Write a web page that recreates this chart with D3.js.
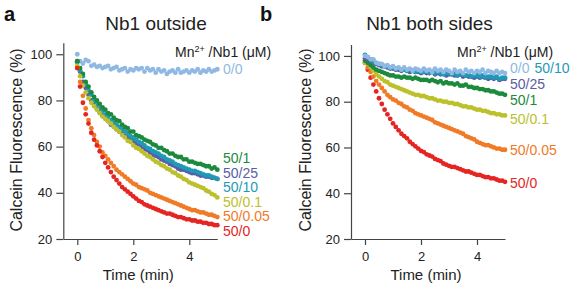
<!DOCTYPE html>
<html>
<head>
<meta charset="utf-8">
<script src="https://cdn.jsdelivr.net/npm/d3@7"></script>
<style>
    body { margin: 0; background: #fff; }
    svg text { font-family: "Liberation Sans", Arial, Helvetica, sans-serif; }
</style>
</head>
<body>
<div id="chart"></div>
<script>
// Time points (min), shared by every series
var times = [0, 0.1, 0.2, 0.3, 0.4, 0.5, 0.6, 0.7, 0.8, 0.9, 1.0,
    1.1, 1.2, 1.3, 1.4, 1.5, 1.6, 1.7, 1.8, 1.9, 2.0,
    2.1, 2.2, 2.3, 2.4, 2.5, 2.6, 2.7, 2.8, 2.9, 3.0,
    3.1, 3.2, 3.3, 3.4, 3.5, 3.6, 3.7, 3.8, 3.9, 4.0,
    4.1, 4.2, 4.3, 4.4, 4.5, 4.6, 4.7, 4.8, 4.9, 5.0];

var xTicks = [0, 2, 4];
var yTicks = [20, 40, 60, 80, 100];

// Series names (Mn2+/Nb1 in uM)
var labels = ["0/0", "50/1", "50/25", "50/10", "50/0.1", "50/0.05", "50/0"];

// Panel a: Nb1 outside, calcein fluorescence (%)
var out_0_0 = [100, 97, 96, 97.5, 97, 95, 95.5, 94.5, 95, 94, 94.5,
    95, 93.5, 94, 94.5, 93, 93.5, 94, 92.5, 93.5, 93,
    94, 93.5, 94, 92.5, 94, 93, 93.5, 92, 93.5, 92.5,
    93, 91.5, 92.5, 93, 92, 93.5, 92, 92.5, 93, 92,
    93, 92.5, 93.5, 92, 93, 92.5, 93.5, 92.5, 93, 93.5];
var out_50_1 = [97, 94, 91.5, 88, 86, 83.5, 81.5, 80, 78.5, 77, 76,
    74.5, 74, 72.5, 71.5, 71, 69.5, 68.5, 68, 66.5, 66.5,
    65, 64.5, 64, 63, 62.5, 62, 61, 60.5, 59.5, 59.5,
    58.5, 58, 57, 57, 56, 55.5, 55.5, 54.5, 54.5, 53.5,
    53.5, 53, 52.5, 52.5, 52, 51.5, 51.5, 50.5, 51, 50];
var out_50_25 = [97, 92.5, 88, 85.5, 82.5, 80, 78.5, 76.5, 75, 73.5, 72.5,
    71, 69.5, 69, 67.5, 66.5, 66, 64.5, 64, 63, 62.5,
    61.5, 61, 60, 59, 58.5, 57.5, 56.5, 56, 55.5, 54.5,
    54, 53.5, 52.5, 52, 51.5, 50.5, 50, 50, 49.5, 49,
    48.5, 48.5, 48, 47.5, 47.5, 47, 47, 46.5, 46.5, 46];
var out_50_10 = [96.5, 93, 90.5, 87, 84.5, 82.5, 80, 78.5, 76.5, 75.5, 74,
    73, 71.5, 70.5, 69.5, 68.5, 67.5, 66.5, 66, 64.5, 64,
    63, 62, 61.5, 60.5, 59.5, 59, 58, 57.5, 57, 56,
    55.5, 54.5, 54, 53.5, 52.5, 52, 51.5, 51, 50.5, 50,
    49.5, 49.5, 49, 48.5, 48, 47.5, 47.5, 47, 46.5, 46];
var out_50_01 = [95, 90.5, 86.5, 83.5, 81, 79, 77.5, 76, 74.5, 73, 72,
    71, 70, 68.5, 67.5, 66.5, 65, 64, 62.5, 62, 60.5,
    59.5, 59, 58, 57, 56, 55.5, 54.5, 53.5, 53, 52,
    51.5, 50.5, 50, 49, 48.5, 47.5, 47, 46, 45.5, 44.5,
    44, 43.5, 43, 42.5, 42, 41, 40.5, 39.5, 39, 38];
var out_50_005 = [94, 88, 82, 76.5, 71.5, 68, 65, 62, 60, 57.5, 56,
    54.5, 53, 51.5, 50, 49, 48, 47, 46, 45, 44,
    43.5, 42.5, 42, 41.5, 41, 40, 39.5, 39, 38.5, 38,
    37.5, 37, 36.5, 36, 35.5, 35, 34.5, 34, 33.5, 33,
    32.5, 32.5, 32, 31.5, 31.5, 31, 30.5, 30.5, 30, 29.5];
var out_50_0 = [94, 86, 79, 74, 70, 66, 63, 60.5, 58, 55.5, 53,
    51, 49, 47, 45.5, 44, 42.5, 41.5, 40.5, 39.5, 38.5,
    37.5, 36.5, 36, 35, 34.5, 34, 33.5, 33, 32.5, 32,
    31.5, 31, 31, 30.5, 30, 29.5, 29.5, 29, 28.5, 28.5,
    28, 28, 27.5, 27.5, 27, 27, 26.5, 26.5, 26, 26];

// Panel b: Nb1 both sides
var both_0_0 = [100, 99.5, 98.5, 98.5, 97, 96.5, 96.5, 95.5, 96, 95, 95.5,
    94.5, 95, 94, 95, 94, 94.5, 93.5, 94.5, 94, 93.5,
    94.5, 93.5, 94, 93, 94.5, 93.5, 94, 93, 94, 93.5,
    92.5, 94, 93, 93.5, 92.5, 94, 93, 93.5, 92.5, 93.5,
    93, 94, 92.5, 93.5, 93, 92.5, 93.5, 92.5, 93, 92.5];
var both_50_1 = [98, 97, 96, 95, 94, 93.5, 93, 92.5, 92, 91.5, 91.5,
    91, 91, 90.5, 91, 90.5, 90.5, 90, 90.5, 90, 89.5,
    89.5, 89.5, 89, 89.5, 89, 88.5, 89, 88, 88.5, 88,
    88, 87.5, 88, 87, 87, 87.5, 86.5, 86.5, 86, 86,
    85.5, 85.5, 85, 85, 84.5, 84.5, 84, 83.5, 83.5, 83];
var both_50_25 = [99, 98.5, 98, 97, 96.5, 96, 95.5, 95.5, 95, 94.5, 94.5,
    94, 94, 93.5, 94, 93.5, 93, 93.5, 93, 93, 92.5,
    93, 92.5, 92.5, 93, 92, 92.5, 92, 92.5, 91.5, 92,
    92, 91.5, 91.5, 92, 91, 91.5, 91, 91, 90.5, 91,
    90.5, 91, 90.5, 90, 90.5, 90, 90.5, 89.5, 90, 90];
var both_50_10 = [100.5, 99.5, 98.5, 97.5, 97, 96.5, 96, 95.5, 95.5, 95, 95,
    94.5, 94.5, 94, 94, 93.5, 94, 93.5, 93, 93.5, 93,
    93, 93.5, 92.5, 93, 92.5, 93, 92.5, 92, 92.5, 92.5,
    92, 92.5, 91.5, 92, 92, 91.5, 92, 91, 91.5, 91.5,
    91, 91.5, 90.5, 91, 91, 90.5, 91, 90, 90.5, 90.5];
var both_50_01 = [97, 96.5, 95, 93.5, 92, 91, 90, 89, 88.5, 87.5, 87,
    86.5, 86, 85.5, 85, 84.5, 84, 83.5, 83, 83, 82.5,
    82.5, 82, 81.5, 81.5, 81, 80.5, 80.5, 80, 80, 79.5,
    79.5, 79, 79, 78.5, 78, 78, 77.5, 77.5, 77, 76.5,
    76.5, 76, 76, 75.5, 75, 75, 74.5, 74.5, 74, 74];
var both_50_005 = [97, 95, 93, 91, 89, 87.5, 86, 84.5, 83, 82, 81,
    80.5, 79.5, 79, 78, 77.5, 76.5, 76, 75, 74.5, 74,
    73.5, 73, 72.5, 72, 71, 70.5, 70, 69.5, 69, 68.5,
    68, 67.5, 67, 66.5, 66, 65, 64.5, 64, 63.5, 62.5,
    62, 61.5, 61, 61, 60.5, 60, 59.5, 59.5, 59, 59];
var both_50_0 = [97, 94, 90.5, 87.5, 84.5, 81.5, 79, 76.5, 74.5, 72.5, 70.5,
    69, 67.5, 66, 65, 64, 62.5, 61.5, 60.5, 59.5, 58.5,
    58, 57, 56.5, 56, 55, 54.5, 54, 53, 52.5, 52,
    51.5, 51.5, 51, 50.5, 50, 49.5, 49.5, 49, 48.5, 48,
    48, 47.5, 47, 47, 46.5, 46.5, 46, 45.5, 45.5, 45];

// Colours per series
var colors = {
    "0/0": "#8fb9e3",
    "50/1": "#1c8a3c",
    "50/25": "#5a5ca8",
    "50/10": "#1e9ab6",
    "50/0.1": "#bcc12b",
    "50/0.05": "#f07a26",
    "50/0": "#e42522"
};

var w = 576;
var h = 288;

var svg = d3.select("#chart")
    .append("svg")
    .attr("width", w)
    .attr("height", h);

// Panel setup (draw order bottom to top, label positions)
var panels = [
    {
        letter: "a", letterX: 4, title: "Nb1 outside", titleX: 156,
        left: 63.3, top: 42.7, yLabelX: 22, headerX: 175,
        series: [
            { name: "0/0", values: out_0_0, lx: 223, ly: 74 },
            { name: "50/25", values: out_50_25, lx: 223, ly: 177.5 },
            { name: "50/10", values: out_50_10, lx: 223, ly: 192 },
            { name: "50/1", values: out_50_1, lx: 223, ly: 162.5 },
            { name: "50/0.1", values: out_50_01, lx: 223, ly: 206.5 },
            { name: "50/0.05", values: out_50_005, lx: 223, ly: 221 },
            { name: "50/0", values: out_50_0, lx: 223, ly: 236 }
        ]
    },
    {
        letter: "b", letterX: 260, title: "Nb1 both sides", titleX: 429.5,
        left: 351, top: 44.5, yLabelX: 311, headerX: 457,
        series: [
            { name: "50/0", values: both_50_0, lx: 510, ly: 187.5 },
            { name: "50/0.05", values: both_50_005, lx: 510, ly: 155 },
            { name: "50/0.1", values: both_50_01, lx: 510, ly: 124 },
            { name: "50/1", values: both_50_1, lx: 510, ly: 105 },
            { name: "50/25", values: both_50_25, lx: 510, ly: 89 },
            { name: "50/10", values: both_50_10, lx: 534.5, ly: 73 },
            { name: "0/0", values: both_0_0, lx: 510, ly: 73 }
        ]
    }
];

panels.forEach(drawPanel);

function drawPanel(p) {
    var bottom = 239;

    var xScale = d3.scaleLinear().domain([-0.5, 5]).range([p.left, p.left + 154]);
    var yScale = d3.scaleLinear().domain([20, 105]).range([bottom, p.top]);

    // Panel letter and title
    svg.append("text")
        .attr("x", p.letterX)
        .attr("y", 21)
        .style("font-size", "20px")
        .style("font-weight", "bold")
        .attr("fill", "#111")
        .text(p.letter);

    svg.append("text")
        .attr("x", p.titleX)
        .attr("y", 29.5)
        .attr("text-anchor", "middle")
        .style("font-size", "19px")
        .attr("fill", "#222")
        .text(p.title);

    // Axes, whole numbers only
    var gy = svg.append("g")
        .attr("transform", "translate(" + p.left + ",0)")
        .call(d3.axisLeft(yScale).tickValues(yTicks).tickFormat(d3.format("d"))
            .tickSize(7).tickSizeOuter(0).tickPadding(4));

    var gx = svg.append("g")
        .attr("transform", "translate(0," + bottom + ")")
        .call(d3.axisBottom(xScale).tickValues(xTicks).tickFormat(d3.format("d"))
            .tickSize(6).tickSizeOuter(0).tickPadding(7));

    [gy, gx].forEach(function (g) {
        g.selectAll("path, line").attr("stroke", "#444").attr("stroke-width", 1.2);
        g.selectAll("text").style("font-size", "13px").attr("fill", "#222");
    });

    // Axis titles
    svg.append("text")
        .attr("transform", "translate(" + p.yLabelX + ",140) rotate(-90)")
        .attr("text-anchor", "middle")
        .style("font-size", "16px")
        .attr("fill", "#222")
        .text("Calcein Fluorescence (%)");

    svg.append("text")
        .attr("x", (xScale(-0.5) + xScale(5)) / 2 - 2)
        .attr("y", 280)
        .attr("text-anchor", "middle")
        .style("font-size", "15px")
        .attr("fill", "#222")
        .text("Time (min)");

    // Data points
    p.series.forEach(function (s) {
        svg.append("g")
            .selectAll("circle")
            .data(s.values)
            .enter()
            .append("circle")
            .attr("cx", function (d, i) { return xScale(times[i]); })
            .attr("cy", function (d) { return yScale(d); })
            .attr("r", 2.4)
            .style("fill", colors[s.name]);
    });

    // Legend header
    var hdr = svg.append("text")
        .attr("x", p.headerX)
        .attr("y", 57)
        .style("font-size", "14px")
        .attr("fill", "#222");
    hdr.append("tspan").text("Mn");
    hdr.append("tspan").attr("dy", -5).style("font-size", "9px").text("2+");
    hdr.append("tspan").attr("dy", 5).text(" /Nb1 (\u03bcM)");

    // Series labels
    p.series.forEach(function (s) {
        svg.append("text")
            .attr("x", s.lx)
            .attr("y", s.ly)
            .style("font-size", "14px")
            .style("fill", colors[s.name])
            .text(s.name);
    });
}
</script>
</body>
</html>
